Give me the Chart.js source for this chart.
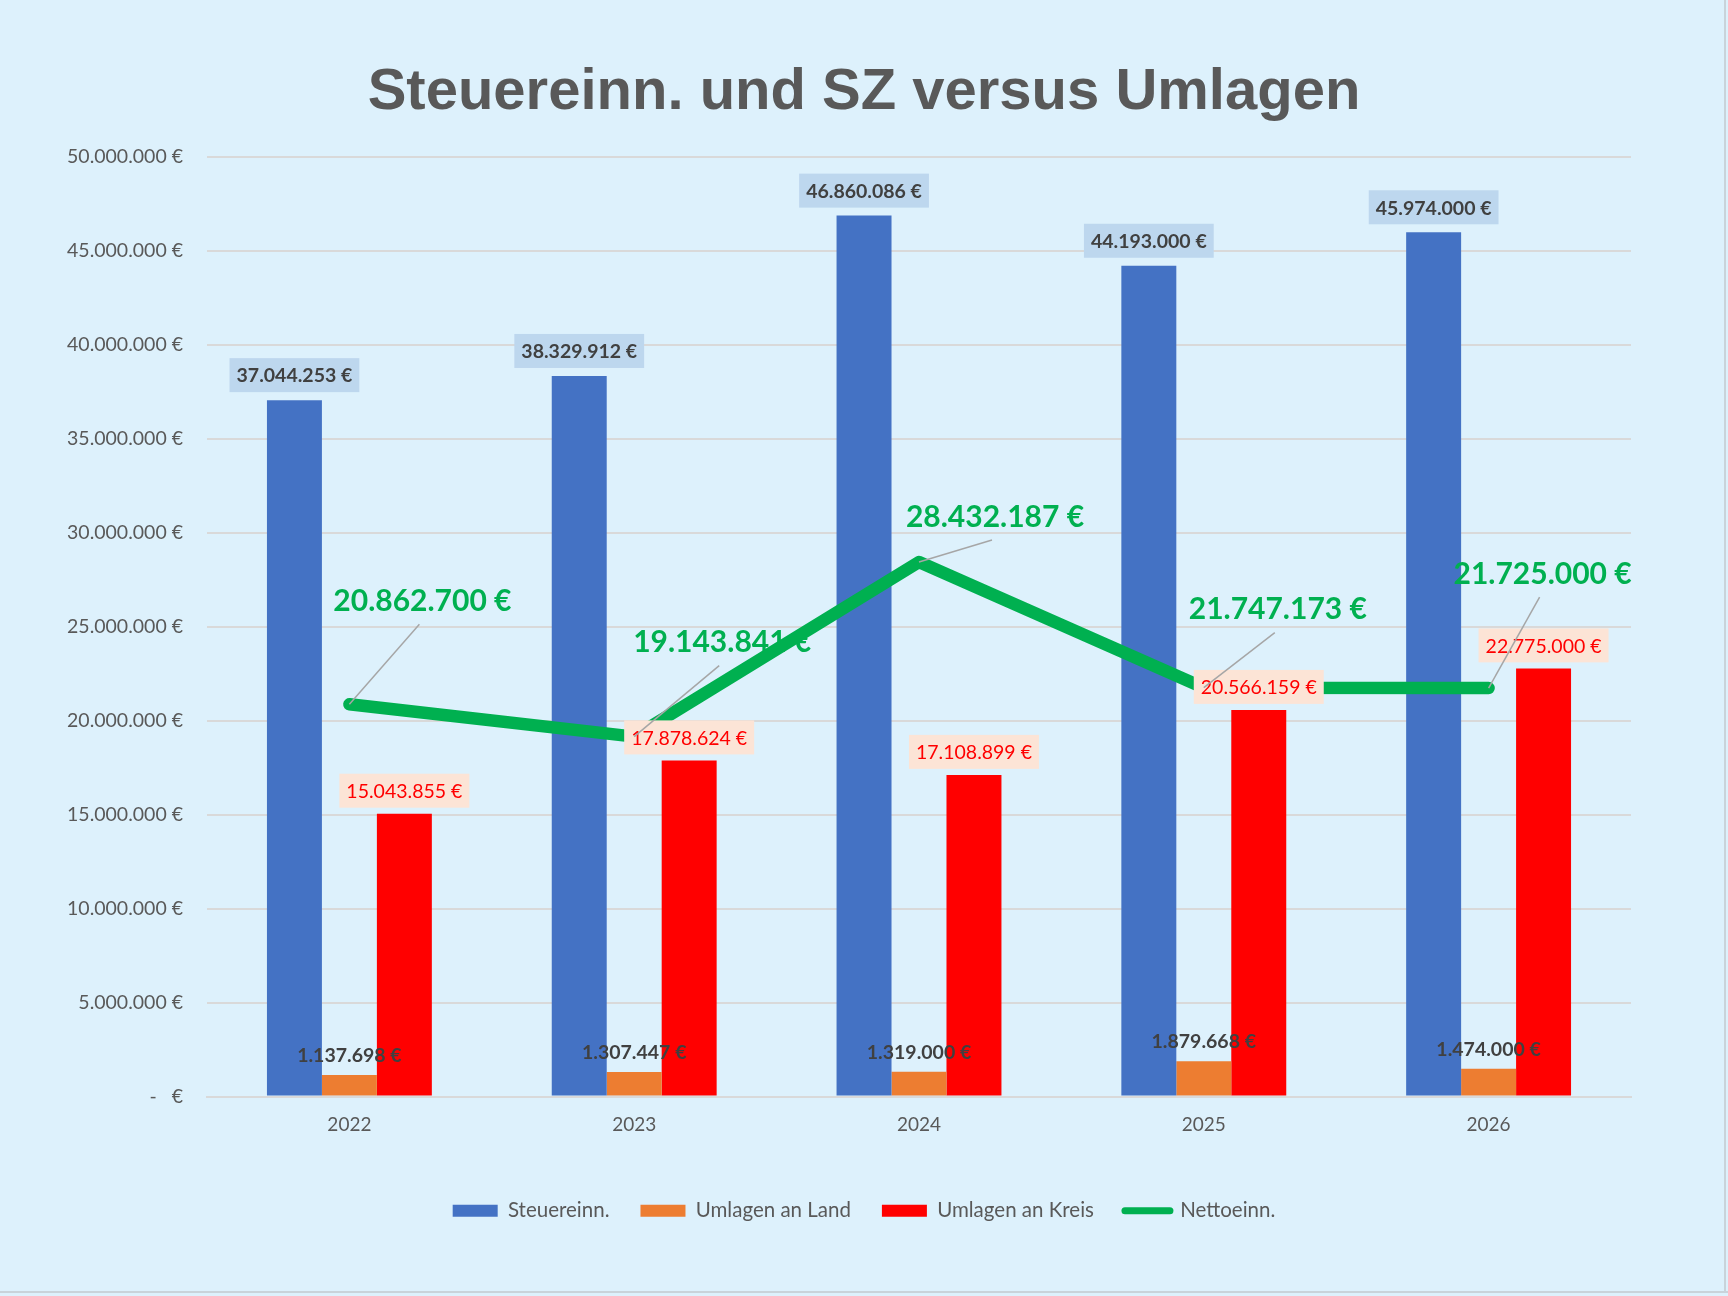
<!DOCTYPE html>
<html>
<head>
<meta charset="utf-8">
<script src="https://cdn.jsdelivr.net/npm/chart.js@4"></script>
<style>
  html, body { margin: 0; padding: 0; background: #ddf1fc; }
  #wrap { position: relative; width: 1728px; height: 1296px; }
  .edge { position: absolute; background: #c9d3da; }
</style>
</head>
<body>
<div id="wrap">
  <canvas id="chart" width="1728" height="1296"></canvas>
  <div class="edge" style="left:0;top:1291px;width:1728px;height:2px"></div>
  <div class="edge" style="left:1724px;top:0;width:2px;height:1293px"></div>
</div>
<script>
const years = ["2022", "2023", "2024", "2025", "2026"];
const steuer = [37044253, 38329912, 46860086, 44193000, 45974000];
const land = [1137698, 1307447, 1319000, 1879668, 1474000];
const kreis = [15043855, 17878624, 17108899, 20566159, 22775000];
const netto = [20862700, 19143841, 28432187, 21747173, 21725000];

// where the green labels sit, relative to their point
const nettoLabelShift = [[73, -103], [88, -94], [76, -45], [74, -78], [54, -114]];

const blue = "#4472c4";
const orange = "#ed7d31";
const red = "#ff0000";
const green = "#00b050";
const grey = "#595959";

function fmt(v) {
    return String(Math.round(v)).replace(/\B(?=(\d{3})+(?!\d))/g, ".");
}
function euro(v) {
    return fmt(v) + " €";
}

function boxLabel(ctx, text, x, y, font, color, bg) {
    ctx.font = font;
    if (bg) {
        const w = ctx.measureText(text).width + 14;
        ctx.fillStyle = bg;
        ctx.fillRect(x - w / 2, y - 17, w, 34);
    }
    ctx.fillStyle = color;
    ctx.fillText(text, x, y + 1);
}

const valueLabels = {
    id: "valueLabels",
    beforeDatasetDraw(chart, args) {
        // green labels go under the line, like in the original
        if (args.index !== 3) return;
        const ctx = chart.ctx;
        ctx.save();
        ctx.textAlign = "center";
        ctx.textBaseline = "middle";
        ctx.font = "bold 30px Lato";
        ctx.fillStyle = green;
        chart.getDatasetMeta(3).data.forEach((pt, i) => {
            const s = nettoLabelShift[i];
            ctx.fillText(euro(netto[i]), pt.x + s[0], pt.y + s[1]);
        });
        ctx.restore();
    },
    afterDatasetsDraw(chart) {
        const ctx = chart.ctx;
        ctx.save();
        ctx.textAlign = "center";
        ctx.textBaseline = "middle";

        chart.getDatasetMeta(0).data.forEach((bar, i) => {
            boxLabel(ctx, euro(steuer[i]), bar.x, bar.y - 25, "bold 19.5px Lato", "#404040", "#bdd7ee");
        });
        chart.getDatasetMeta(1).data.forEach((bar, i) => {
            boxLabel(ctx, euro(land[i]), bar.x, bar.y - 20, "bold 19.5px Lato", "#404040", null);
        });
        chart.getDatasetMeta(2).data.forEach((bar, i) => {
            boxLabel(ctx, euro(kreis[i]), bar.x, bar.y - 23, "19.5px Lato", red, "#fce4d6");
        });

        // leader lines from line points to their labels
        ctx.strokeStyle = "#a6a6a6";
        ctx.lineWidth = 1.5;
        chart.getDatasetMeta(3).data.forEach((pt, i) => {
            const s = nettoLabelShift[i];
            ctx.beginPath();
            ctx.moveTo(pt.x, pt.y);
            ctx.lineTo(pt.x + s[0] - 3, pt.y + s[1] + 23);
            ctx.stroke();
        });
        ctx.restore();
    }
};

const ctx = document.getElementById("chart");

new Chart(ctx, {
    type: "bar",
    data: {
        labels: years,
        datasets: [{
            label: "Steuereinn.",
            data: steuer,
            backgroundColor: blue,
        }, {
            label: "Umlagen an Land",
            data: land,
            backgroundColor: orange,
        }, {
            label: "Umlagen an Kreis",
            data: kreis,
            backgroundColor: red,
        }, {
            type: "line",
            label: "Nettoeinn.",
            data: netto,
            borderColor: green,
            backgroundColor: green,
            borderWidth: 12.5,
            borderCapStyle: "round",
            borderJoinStyle: "round",
            pointRadius: 0,
            order: -1,
        }],
    },
    options: {
        responsive: false,
        animation: false,
        categoryPercentage: 0.579,
        barPercentage: 1.0,
        layout: { padding: { top: 20, right: 0, bottom: 65, left: 0 } },
        plugins: {
            title: {
                display: true,
                text: "Steuereinn. und SZ versus Umlagen",
                color: grey,
                font: { family: "Liberation Sans", size: 58, weight: "bold" },
                padding: { top: 38, bottom: 29 },
            },
            legend: {
                position: "bottom",
                labels: {
                    color: grey,
                    font: { family: "Lato", size: 20.5 },
                    usePointStyle: true,
                    pointStyleWidth: 45,
                    boxHeight: 12,
                    padding: 31,
                    sort: (a, b) => a.datasetIndex - b.datasetIndex,
                    generateLabels(chart) {
                        const items = Chart.defaults.plugins.legend.labels.generateLabels(chart);
                        items.forEach(it => {
                            if (it.datasetIndex === 3) {
                                it.pointStyle = "line";
                                it.lineWidth = 7;
                                it.lineCap = "round";
                                it.strokeStyle = green;
                            } else {
                                it.pointStyle = "rect";
                                it.lineWidth = 0;
                            }
                        });
                        return items;
                    },
                },
            },
            tooltip: { enabled: false },
        },
        scales: {
            x: {
                grid: { display: false, drawTicks: false },
                border: { color: "#d9d9d9", width: 2 },
                ticks: { color: grey, font: { family: "Lato", size: 19 }, padding: 17 },
                afterFit: s => { s.height = 73; },
            },
            y: {
                min: 0,
                max: 50000000,
                grid: { color: "#d9d9d9", lineWidth: 2, drawTicks: false },
                border: { display: false },
                ticks: {
                    stepSize: 5000000,
                    color: grey,
                    font: { family: "Lato", size: 19.5 },
                    padding: 24,
                    callback: v => v === 0 ? "-   €" : euro(v),
                },
                afterFit: s => { s.width = 207; },
            },
            // empty right axis, only keeps the plot off the right edge
            side: {
                position: "right",
                grid: { display: false, drawTicks: false },
                border: { display: false },
                ticks: { display: false },
                afterFit: s => { s.width = 97; },
            },
        },
    },
    plugins: [valueLabels],
});
</script>
</body>
</html>
